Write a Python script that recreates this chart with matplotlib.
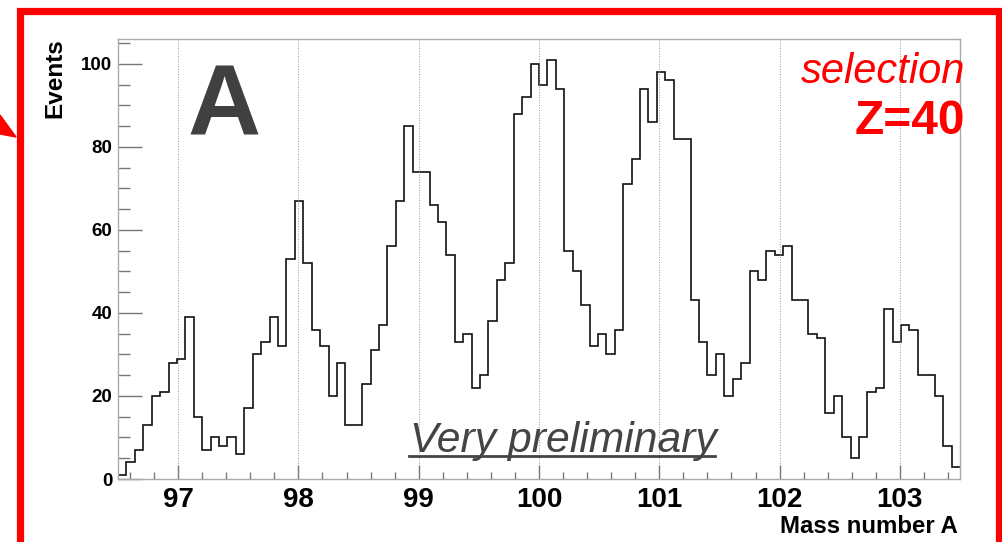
import numpy as np
import matplotlib
matplotlib.use('Agg')
import matplotlib.pyplot as plt
from matplotlib.patches import Rectangle, Polygon
from matplotlib.ticker import MultipleLocator

plt.rcParams['font.family'] = ['Liberation Sans', 'DejaVu Sans']

# mass histogram, 100 bins between 96.5 and 103.5
a_min, a_max = 96.5, 103.5
counts = [
    1, 4, 7, 13, 20, 21, 28, 29, 39, 15,
    7, 10, 8, 10, 6, 17, 30, 33, 39, 32,
    53, 67, 52, 36, 32, 20, 28, 13, 13, 23,
    31, 37, 56, 67, 85, 74, 74, 66, 62, 54,
    33, 35, 22, 25, 38, 48, 52, 88, 92, 100,
    95, 101, 94, 55, 50, 42, 32, 35, 30, 36,
    71, 77, 94, 86, 98, 96, 82, 82, 43, 33,
    25, 30, 20, 24, 28, 50, 48, 55, 54, 56,
    43, 43, 35, 34, 16, 20, 10, 5, 10, 21,
    22, 41, 33, 37, 36, 25, 25, 20, 8, 3,
]
x_ticks = [97, 98, 99, 100, 101, 102, 103]
y_ticks = [0, 20, 40, 60, 80, 100]

W, H = 1003, 542
fig = plt.figure(figsize=(W / 100, H / 100), dpi=100)
fig.patch.set_facecolor('white')


def fx(px):
    return px / W


def fy(py):
    return 1 - py / H


ax = fig.add_axes([fx(118), fy(479), fx(960) - fx(118), fy(38.7) - fy(479)])

edges = np.linspace(a_min, a_max, len(counts) + 1)
ax.stairs(counts, edges, baseline=None, color='#111111', lw=1.2)

ax.set_xlim(a_min, a_max)
ax.set_ylim(0, max(counts) * 1.05)
ax.set_xticks(x_ticks)
ax.set_yticks(y_ticks)
ax.xaxis.set_minor_locator(MultipleLocator(0.2))
ax.yaxis.set_minor_locator(MultipleLocator(5))
ax.grid(axis='x', which='major', linestyle=':', color='#999999', lw=0.7)

for s in ax.spines.values():
    s.set_color('#aaaaaa')
    s.set_linewidth(1.0)

ax.tick_params(axis='x', which='major', direction='in', length=10, width=1,
               color='#777777', labelsize=20, pad=6)
ax.tick_params(axis='x', which='minor', direction='in', length=5, width=1,
               color='#777777')
ax.tick_params(axis='y', which='major', direction='in', length=17.5, width=1,
               color='#777777', labelsize=13.5, pad=4)
ax.tick_params(axis='y', which='minor', direction='in', length=8.5, width=1,
               color='#777777')
for lab in ax.get_xticklabels() + ax.get_yticklabels():
    lab.set_fontweight('bold')

# axis titles
fig.text(fx(55), fy(38), 'Events', rotation=90, ha='center', va='top',
         fontsize=17.5, fontweight='bold')
fig.text(fx(958), fy(533), 'Mass number A', ha='right', va='baseline',
         fontsize=17.3, fontweight='bold')

# annotations inside the frame
fig.text(fx(224), fy(135), 'A', ha='center', va='baseline',
         fontsize=73, fontweight='bold', color='#404040')
fig.text(fx(965), fy(83), 'selection', ha='right', va='baseline',
         fontsize=30, style='italic', color='red')
fig.text(fx(965), fy(134), 'Z=40', ha='right', va='baseline',
         fontsize=34.5, fontweight='bold', color='red')
fig.text(fx(410), fy(452), 'Very preliminary', ha='left', va='baseline',
         fontsize=30.7, style='italic', color='#444444')
fig.add_artist(plt.Line2D([fx(409), fx(715)], [fy(456), fy(456)],
                          color='#444444', lw=2))

# red highlight frame and arrow tip
fig.add_artist(Rectangle((fx(20.5), fy(600)), fx(999) - fx(20.5),
                         fy(10.5) - fy(600), fill=False,
                         edgecolor='red', lw=5.2))
fig.add_artist(Polygon([(fx(0), fy(115)), (fx(0), fy(134)), (fx(16), fy(137))],
                       closed=True, color='red'))

fig.savefig('out.png', dpi=100)
